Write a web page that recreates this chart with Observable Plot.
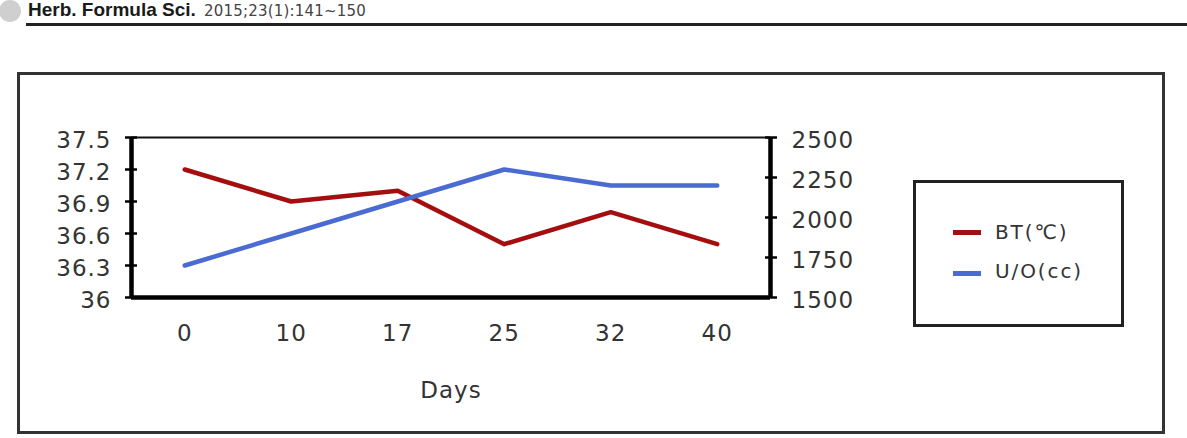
<!DOCTYPE html>
<html><head><meta charset="utf-8">
<script src="https://cdn.jsdelivr.net/npm/d3@7"></script>
<script src="https://cdn.jsdelivr.net/npm/@observablehq/plot@0.6"></script>
<style>
body{margin:0;background:#fff;width:1187px;height:438px;overflow:hidden;position:relative;font-family:"DejaVu Sans","Noto Sans CJK KR",sans-serif;}
#dot{position:absolute;left:-1px;top:0px;width:22px;height:22px;border-radius:50%;background:#cfcfcf;}
#hdr{position:absolute;left:28px;top:-1px;white-space:nowrap;}
#hdr .j{font-family:"Liberation Sans",Arial,sans-serif;font-weight:bold;font-size:19px;color:#1a1a1a;}
#hdr .c{font-family:"DejaVu Sans",sans-serif;font-size:15px;letter-spacing:0.2px;color:#444;margin-left:3px;}
#hline{position:absolute;left:26px;top:23px;width:1170px;height:3px;background:#222;}
#frame{position:absolute;left:17px;top:72px;width:1148px;height:362px;border:3px solid #333;box-sizing:border-box;}
#chart{position:absolute;left:0;top:0;}
#legend{position:absolute;left:913px;top:180px;width:211px;height:147px;border:3px solid #222;box-sizing:border-box;}
.li{position:absolute;left:953px;width:28px;height:5px;}
.lt{position:absolute;left:995px;font-size:20px;letter-spacing:1.9px;color:#333;line-height:24px;}
</style></head><body>
<div id="dot"></div>
<div id="hdr"><span class="j">Herb. Formula Sci.</span> <span class="c">2015;23(1):141~150</span></div>
<div id="hline"></div>
<div id="frame"></div>
<div id="chart"></div>
<div id="legend"></div>
<div class="li" style="top:230px;background:#a50e0e"></div>
<div class="lt" style="top:220px">BT(℃)</div>
<div class="li" style="top:271px;background:#4a6bd2"></div>
<div class="lt" style="top:259px">U/O(cc)</div>
<script>
const days = ["0", "10", "17", "25", "32", "40"];
const bt = [37.2, 36.9, 37.0, 36.5, 36.8, 36.5];
const uo = [1700, 1900, 2100, 2300, 2200, 2200];
const btTicks = [36, 36.3, 36.6, 36.9, 37.2, 37.5];
const uoTicks = [1500, 1750, 2000, 2250, 2500];
const btMin = 36, btMax = 37.5, uoMin = 1500, uoMax = 2500;
const toBT = v => btMin + (v - uoMin) / (uoMax - uoMin) * (btMax - btMin);
const fromBT = y => String(Math.round(uoMin + (y - btMin) / (btMax - btMin) * (uoMax - uoMin)));
const idx = days.map((d, i) => i);
const btData = idx.map(i => ({i, v: bt[i]}));
const uoData = idx.map(i => ({i, v: toBT(uo[i])}));
const red = "#a50e0e", blue = "#4a6bd2";

const chart = Plot.plot({
  width: 1187, height: 438,
  marginLeft: 131, marginRight: 417, marginTop: 137, marginBottom: 141,
  style: {fontFamily: '"DejaVu Sans", sans-serif', fontSize: "23px", color: "#333", background: "transparent", letterSpacing: "1px", overflow: "visible"},
  x: {domain: [-0.5, 5.5]},
  y: {domain: [btMin, btMax]},
  marks: [
    Plot.ruleY([btMax], {stroke: "#111", strokeWidth: 2}),
    Plot.line(btData, {x: "i", y: "v", stroke: red, strokeWidth: 4.5}),
    Plot.line(uoData, {x: "i", y: "v", stroke: blue, strokeWidth: 4.5}),
    Plot.ruleX([-0.5], {stroke: "#000", strokeWidth: 4.5}),
    Plot.ruleX([5.5], {stroke: "#000", strokeWidth: 4.5}),
    Plot.ruleY([btMin], {stroke: "#000", strokeWidth: 4.5}),
    Plot.axisY(btTicks, {anchor: "left", label: null, tickSize: 12, dx: 6, tickFormat: () => "", stroke: "#000", strokeWidth: 2.5}),
    Plot.axisY(btTicks, {anchor: "left", label: null, tickSize: 0, tickPadding: 20, dy: 3, fill: "#333", tickFormat: d => String(d)}),
    Plot.axisY(uoTicks.map(toBT), {anchor: "right", label: null, tickSize: 12, dx: -6, tickFormat: () => "", stroke: "#000", strokeWidth: 2.5}),
    Plot.axisY(uoTicks.map(toBT), {anchor: "right", label: null, tickSize: 0, tickPadding: 21, dy: 3, fill: "#333", tickFormat: fromBT}),
    Plot.axisX(idx, {anchor: "bottom", label: null, tickSize: 0, tickPadding: 27, fill: "#333", tickFormat: i => days[i]}),
    Plot.text(["Days"], {frameAnchor: "bottom", dy: 84, lineAnchor: "top", fill: "#333", text: d => d})
  ]
});
document.getElementById("chart").appendChild(chart);
</script>
</body></html>
